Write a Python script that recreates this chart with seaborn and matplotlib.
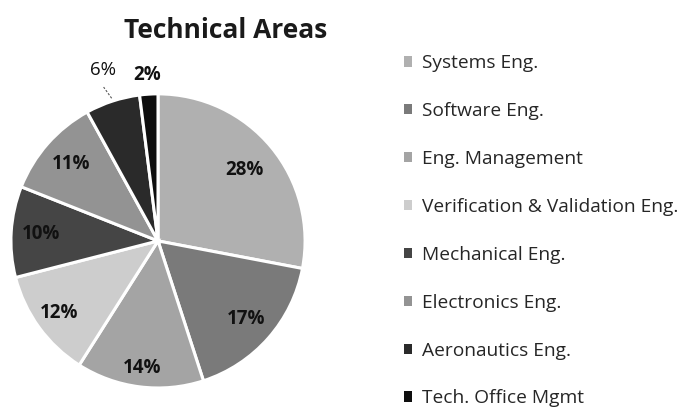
import numpy as np
import matplotlib
matplotlib.use("Agg")
import matplotlib.pyplot as plt
import seaborn as sns
from matplotlib.patches import Patch

sns.set_theme(style="white")
plt.rcParams['font.family'] = ['Open Sans', 'DejaVu Sans']

# ---- data ----
title = "Technical Areas"
categories = ["Systems Eng.", "Software Eng.", "Eng. Management",
              "Verification & Validation Eng.", "Mechanical Eng.",
              "Electronics Eng.", "Aeronautics Eng.", "Tech. Office Mgmt"]
shares = [28, 17, 14, 12, 10, 11, 6, 2]

# ---- style ----
colors = ["#b0b0b0", "#7a7a7a", "#a4a4a4", "#cdcdcd",
          "#454545", "#939393", "#2a2a2a", "#0e0e0e"]
label_dist = [0.76, 0.80, 0.87, 0.83, 0.80, 0.79, 1.22, 1.13]
label_weight = ["bold"] * 6 + ["normal", "bold"]

fig = plt.figure(figsize=(6.84, 4.08), dpi=100)
ax = fig.add_axes([0.016, 0.049, 0.430, 0.721])
wedges, _ = ax.pie(shares, colors=colors, startangle=90, counterclock=False,
                   wedgeprops=dict(edgecolor="white", linewidth=2.2))
ax.set_xlim(-1.0, 1.0)
ax.set_ylim(-1.0, 1.0)
ax.set_aspect("equal")
ax.axis("off")

for w, v, d, fw in zip(wedges, shares, label_dist, label_weight):
    ang = np.deg2rad((w.theta1 + w.theta2) / 2)
    x, y = d * np.cos(ang), d * np.sin(ang)
    ax.text(x, y, f"{v}%", ha="center", va="center", fontsize=13.5,
            fontweight=fw, color="#111111", clip_on=False)
    if d > 1.0 and v > 3:
        ax.plot([1.02 * np.cos(ang) - 0.0, 1.10 * np.cos(ang) - 0.03],
                [1.02 * np.sin(ang), 1.10 * np.sin(ang)],
                color="#555555", lw=0.8, ls=(0, (2, 1.5)), clip_on=False)

fig.text(0.330, 0.925, title, ha="center", va="center",
         fontsize=19, fontweight="bold", color="#1a1a1a")

handles = [Patch(facecolor=c, edgecolor="none") for c in colors]
fig.legend(handles, categories, loc="upper left",
           bbox_to_anchor=(0.579, 0.886), frameon=False,
           fontsize=13.8, labelspacing=1.56, handlelength=0.45,
           handleheight=0.45, handletextpad=0.5, borderaxespad=0)

fig.savefig("out.png", dpi=100)
